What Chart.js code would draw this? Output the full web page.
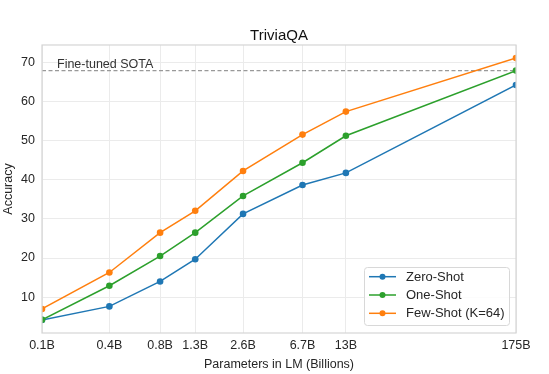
<!DOCTYPE html>
<html>
<head>
<meta charset="utf-8">
<script src="https://cdn.jsdelivr.net/npm/chart.js@4.4.0/dist/chart.umd.min.js"></script>
<style>
html,body{margin:0;padding:0;background:#fff;}
#wrap{width:549px;height:374px;position:relative;}
</style>
</head>
<body>
<div id="wrap"><canvas id="c" width="549" height="374"></canvas></div>
<script>
// ---- data ----
const paramsB = [0.125, 0.35, 0.76, 1.3, 2.7, 6.7, 13, 175];
const tickLabels = ['0.1B', '0.4B', '0.8B', '1.3B', '2.6B', '6.7B', '13B', '175B'];
const zeroShot = [4.15, 7.61, 14.0, 19.7, 31.3, 38.7, 41.8, 64.3];
const oneShot = [4.19, 12.9, 20.5, 26.5, 35.9, 44.4, 51.3, 68.0];
const fewShot = [6.96, 16.3, 26.5, 32.1, 42.3, 51.6, 57.5, 71.2];
const sotaValue = 68.0;
const sotaLabel = 'Fine-tuned SOTA';
const yTicks = [10, 20, 30, 40, 50, 60, 70];
const chartTitle = 'TriviaQA';

const FONT = "'Liberation Sans', Arial, sans-serif";
const TXT = '#262626';

function pts(ys){ return paramsB.map((x,i)=>({x:x,y:ys[i]})); }

const seriesDefs = [
  {label:'Zero-Shot', data:zeroShot, color:'#1f77b4'},
  {label:'One-Shot', data:oneShot, color:'#2ca02c'},
  {label:'Few-Shot (K=64)', data:fewShot, color:'#ff7f0e'}
];

const datasets = [{
  label: sotaLabel,
  data: [{x:paramsB[0], y:sotaValue},{x:paramsB[paramsB.length-1], y:sotaValue}],
  borderColor:'#999999', borderWidth:1.2, borderDash:[4,2.5],
  pointRadius:0, fill:false, order:10
}].concat(seriesDefs.map((s,i)=>({
  label:s.label, data:pts(s.data), borderColor:s.color, backgroundColor:s.color,
  borderWidth:1.5, pointRadius:3.3, pointBorderWidth:0, pointHoverRadius:3.3, tension:0, order:3-i
})));

const extras = {
  id:'extras',
  beforeDraw(chart){
    const ctx=chart.ctx; ctx.save();
    ctx.fillStyle='#fff'; ctx.fillRect(0,0,chart.width,chart.height); ctx.restore();
  },
  afterDatasetsDraw(chart){
    const ctx=chart.ctx, a=chart.chartArea;
    ctx.save();
    // frame
    ctx.strokeStyle='#d5d5d5'; ctx.lineWidth=1.2;
    ctx.strokeRect(a.left, a.top, a.right-a.left, a.bottom-a.top);
    // title
    ctx.fillStyle='#111'; ctx.font='15px '+FONT; ctx.textAlign='center'; ctx.textBaseline='middle';
    ctx.fillText(chartTitle, (a.left+a.right)/2, 36);
    // SOTA label
    const ys = chart.scales.y.getPixelForValue(sotaValue);
    ctx.fillStyle='#333'; ctx.font='12.5px '+FONT; ctx.textAlign='left'; ctx.textBaseline='alphabetic';
    ctx.fillText(sotaLabel, a.left+15, ys-3);
    // legend
    const bx=364.5, by=267.5, bw=145, bh=58;
    ctx.beginPath();
    if (ctx.roundRect) ctx.roundRect(bx,by,bw,bh,3); else ctx.rect(bx,by,bw,bh);
    ctx.fillStyle='rgba(255,255,255,0.85)'; ctx.fill();
    ctx.strokeStyle='#d8d8d8'; ctx.lineWidth=1; ctx.stroke();
    ctx.font='13px '+FONT; ctx.textBaseline='middle';
    seriesDefs.forEach((s,i)=>{
      const y = 276.7 + i*18.3;
      ctx.strokeStyle=s.color; ctx.lineWidth=1.5;
      ctx.beginPath(); ctx.moveTo(369,y); ctx.lineTo(396,y); ctx.stroke();
      ctx.fillStyle=s.color; ctx.beginPath(); ctx.arc(382.5,y,3,0,Math.PI*2); ctx.fill();
      ctx.fillStyle=TXT; ctx.fillText(s.label, 406, y+0.5);
    });
    ctx.restore();
  }
};

new Chart(document.getElementById('c'), {
  type:'line',
  data:{datasets:datasets},
  plugins:[extras],
  options:{
    responsive:false, animation:false, devicePixelRatio:1,
    layout:{padding:{top:45,right:33,left:0,bottom:0}},
    plugins:{legend:{display:false}, title:{display:false}, tooltip:{enabled:false}},
    scales:{
      x:{
        type:'logarithmic', min:paramsB[0], max:paramsB[paramsB.length-1],
        afterBuildTicks(scale){ scale.ticks = paramsB.map(v=>({value:v})); },
        afterFit(scale){ scale.height = 41; },
        ticks:{autoSkip:false, maxRotation:0, padding:5, color:TXT, font:{family:FONT,size:12.5},
          callback:(v,i)=>tickLabels[i]},
        grid:{color:'#ebebeb', lineWidth:1, drawTicks:false},
        border:{display:false},
        title:{display:true, text:'Parameters in LM (Billions)', color:TXT, font:{family:FONT,size:12.5}, padding:{top:0,bottom:2}}
      },
      y:{
        type:'linear', min:0.8, max:74.55,
        afterBuildTicks(scale){ scale.ticks = yTicks.map(v=>({value:v})); },
        afterFit(scale){ scale.width = 42; },
        ticks:{padding:7, color:TXT, font:{family:FONT,size:12.5}},
        grid:{color:'#ebebeb', lineWidth:1, drawTicks:false},
        border:{display:false},
        title:{display:true, text:'Accuracy', color:TXT, font:{family:FONT,size:12.5}, padding:{top:1,bottom:0}}
      }
    }
  }
});
</script>
</body>
</html>
